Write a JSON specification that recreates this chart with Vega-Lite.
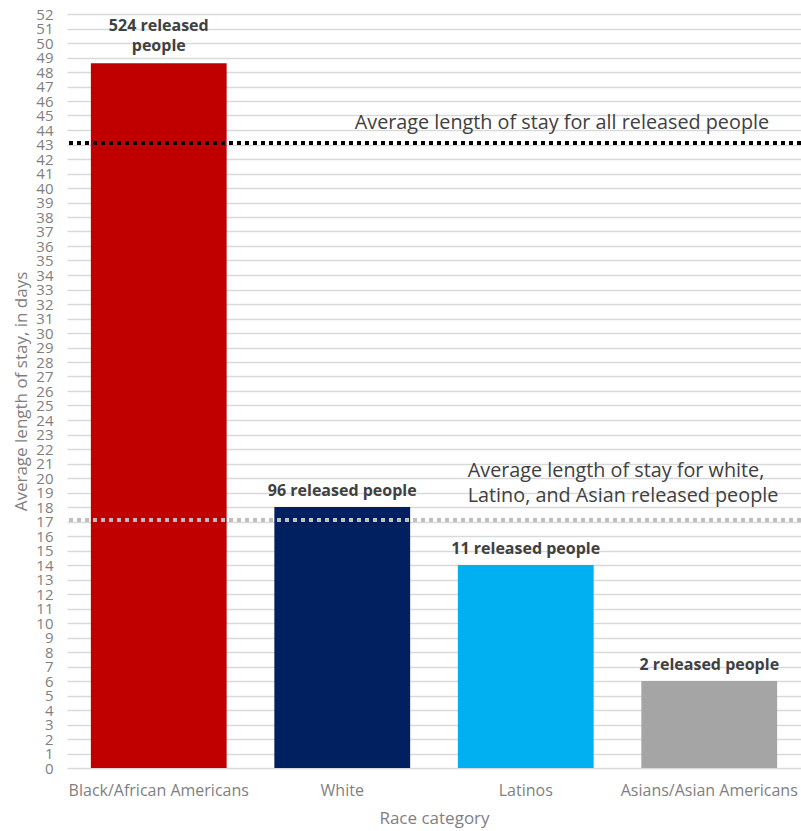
{
  "$schema": "https://vega.github.io/schema/vega-lite/v6.json",
  "width": 734,
  "height": 754,
  "autosize": {"type": "none"},
  "padding": {"left": 67, "top": 14, "right": 0, "bottom": 63},
  "background": "white",
  "config": {
    "font": "Open Sans",
    "view": {"stroke": null},
    "axisY": {"labelOverlap": false}
  },
  "datasets": {
    "bars": [
      {"race": "Black/African Americans", "days": 48.6, "label": "524 released\npeople"},
      {"race": "White", "days": 18, "label": "96 released people"},
      {"race": "Latinos", "days": 14, "label": "11 released people"},
      {"race": "Asians/Asian Americans", "days": 6, "label": "2 released people"}
    ],
    "averages": [
      {"group": "all", "days": 43.1},
      {"group": "white_latino_asian", "days": 17.1}
    ],
    "notes": [
      {"group": "all", "race": "Latinos", "days": 44.45, "note": "Average length of stay for all released people"},
      {"group": "white_latino_asian", "race": "Latinos", "days": 20.45, "note": "Average length of stay for white,\nLatino, and Asian released people"}
    ]
  },
  "encoding": {
    "y": {
      "field": "days",
      "type": "quantitative",
      "scale": {"domain": [0, 52], "nice": false},
      "axis": {
        "title": "Average length of stay, in days",
        "values": [0,1,2,3,4,5,6,7,8,9,10,11,12,13,14,15,16,17,18,19,20,21,22,23,24,25,26,27,28,29,30,31,32,33,34,35,36,37,38,39,40,41,42,43,44,45,46,47,48,49,50,51,52],
        "labelOverlap": false,
        "labelFontSize": 15,
        "labelColor": "#7f7f7f",
        "labelPadding": 14,
        "titleFontSize": 17,
        "titleColor": "#7f7f7f",
        "titleFontWeight": "normal",
        "titlePadding": 5,
        "ticks": false,
        "domain": false,
        "grid": true,
        "gridColor": "#d9d9d9",
        "gridWidth": 1.5
      }
    }
  },
  "layer": [
    {
      "data": {"name": "bars"},
      "mark": {"type": "bar"},
      "encoding": {
        "x": {
          "field": "race",
          "type": "nominal",
          "sort": null,
          "scale": {"paddingInner": 0.26, "paddingOuter": 0.13},
          "axis": {
            "title": "Race category",
            "labelAngle": 0,
            "labelFontSize": 16,
            "labelLimit": 400,
            "labelColor": "#7f7f7f",
            "labelPadding": 14,
            "titleFontSize": 17,
            "titleColor": "#7f7f7f",
            "titleFontWeight": "normal",
            "titlePadding": 12,
            "ticks": false,
            "domain": false
          }
        },
        "color": {
          "field": "race",
          "type": "nominal",
          "sort": null,
          "scale": {
            "domain": ["Black/African Americans", "White", "Latinos", "Asians/Asian Americans"],
            "range": ["#C00000", "#002060", "#00B0F0", "#A5A5A5"]
          },
          "legend": null
        }
      }
    },
    {
      "data": {"name": "bars"},
      "transform": [{"filter": "datum.race === 'Black/African Americans'"}],
      "mark": {"type": "text", "baseline": "bottom", "align": "center", "dy": -29, "fontSize": 16, "fontWeight": "bold", "color": "#404040", "lineBreak": "\n", "lineHeight": 20},
      "encoding": {
        "x": {"field": "race", "type": "nominal", "sort": null},
        "text": {"field": "label"}
      }
    },
    {
      "data": {"name": "bars"},
      "transform": [{"filter": "datum.race !== 'Black/African Americans'"}],
      "mark": {"type": "text", "baseline": "bottom", "align": "center", "dy": -8, "fontSize": 16, "fontWeight": "bold", "color": "#404040"},
      "encoding": {
        "x": {"field": "race", "type": "nominal", "sort": null},
        "text": {"field": "label"}
      }
    },
    {
      "data": {"name": "averages"},
      "mark": {"type": "rule", "strokeWidth": 4, "strokeDash": [4, 4]},
      "encoding": {
        "color": {
          "field": "group",
          "type": "nominal",
          "scale": {"domain": ["all", "white_latino_asian"], "range": ["#000000", "#bfbfbf"]},
          "legend": null
        }
      }
    },
    {
      "data": {"name": "notes"},
      "transform": [{"filter": "datum.group === 'all'"}],
      "mark": {"type": "text", "baseline": "middle", "align": "left", "dx": -171, "fontSize": 19.8, "color": "#404040"},
      "encoding": {
        "x": {"field": "race", "type": "nominal", "sort": null},
        "text": {"field": "note"}
      }
    },
    {
      "data": {"name": "notes"},
      "transform": [{"filter": "datum.group !== 'all'"}],
      "mark": {"type": "text", "baseline": "middle", "align": "left", "dx": -58, "fontSize": 19.8, "color": "#404040", "lineBreak": "\n", "lineHeight": 25},
      "encoding": {
        "x": {"field": "race", "type": "nominal", "sort": null},
        "text": {"field": "note"}
      }
    }
  ],
  "resolve": {"scale": {"color": "independent"}}
}
